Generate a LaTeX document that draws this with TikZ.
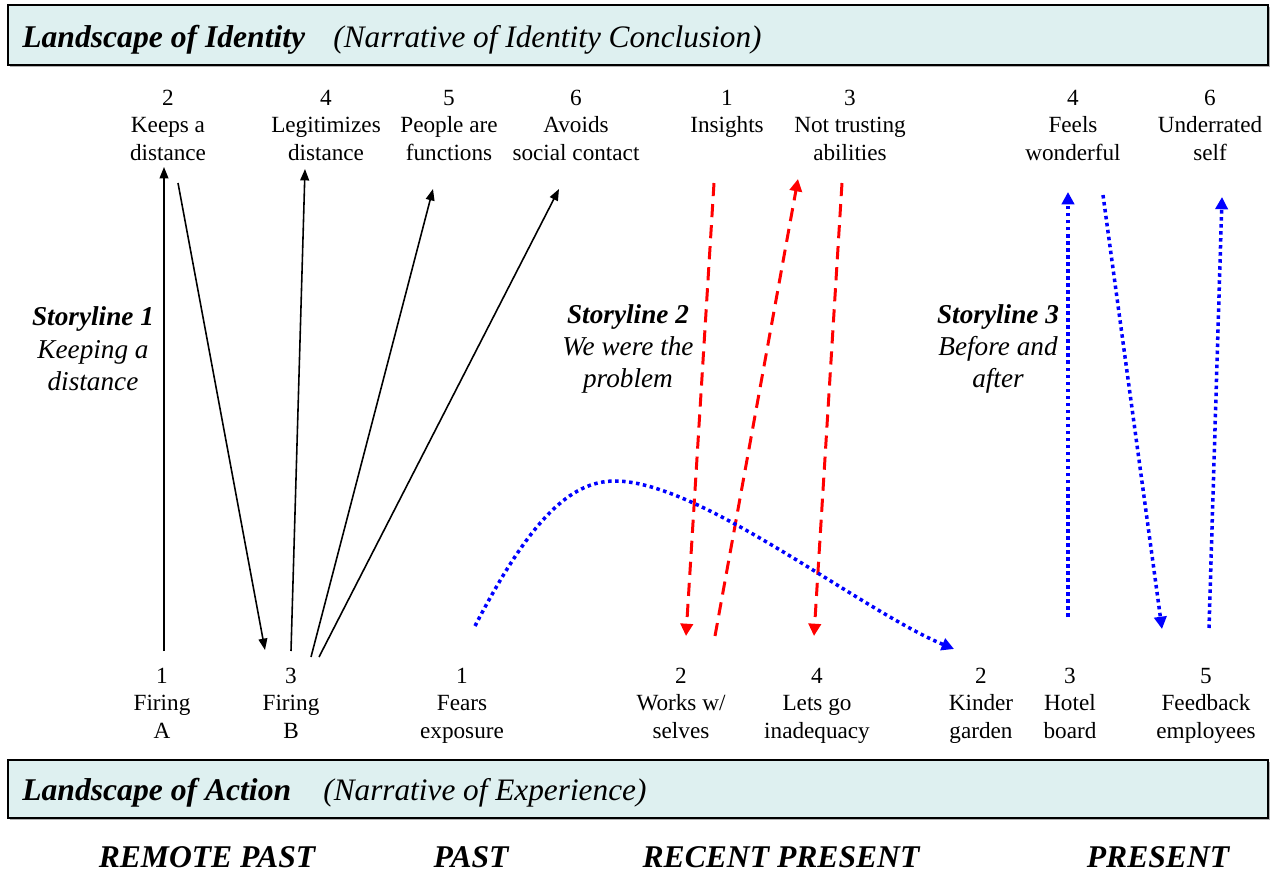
\documentclass[tikz,border=0pt]{standalone}
\usepackage{fontspec}
\setmainfont{Liberation Serif}
\usetikzlibrary{arrows.meta}
\definecolor{boxfill}{RGB}{222,240,240}
\newcommand{\ls}{\strut}
\tikzset{
  lbl/.style={font=\fontsize{13.2}{15.6}\selectfont, align=center, inner sep=0pt, anchor=north},
  story/.style={font=\fontsize{15.5}{18.4}\selectfont\itshape, align=center, inner sep=0pt},
  hdr/.style={font=\fontsize{17.8}{21}\selectfont\itshape, inner sep=0pt},
  era/.style={font=\fontsize{18}{21}\selectfont\bfseries\itshape, inner sep=0pt, anchor=base},
  blackarr/.style={black, line width=0.9pt, -{Triangle[length=6.5pt,width=5pt]}},
  redarr/.style={red, line width=1.7pt, dash pattern=on 7.5pt off 4.5pt, -{Triangle[length=7pt,width=7pt]}},
  bluearr/.style={blue, line width=2pt, dash pattern=on 2pt off 2pt, -{Triangle[length=7pt,width=7pt]}},
  panel/.style={draw=black, line width=0.8pt, fill=boxfill}
}
\begin{document}
\begin{tikzpicture}[x=0.02cm,y=-0.02cm]
\useasboundingbox (0,0) rectangle (1275,872);
% header panels
\fill[gray!60] (10,7) rectangle (1270,67);
\draw[panel] (8,5) rectangle (1268,65);
\fill[gray!60] (10,762) rectangle (1270,820);
\draw[panel] (8,760) rectangle (1268,818);
\node[hdr, anchor=base west] (lid) at (22,48) {\bfseries\fontsize{18}{21}\selectfont Landscape of Identity};
\node[hdr, anchor=base west] (nid) at (333,48) {(Narrative of Identity Conclusion)};
\node[hdr, anchor=base west] (lac) at (22,800) {\bfseries\fontsize{18}{21}\selectfont Landscape of Action};
\node[hdr, anchor=base west] (nex) at (323,800) {(Narrative of Experience)};
% era labels
\node[era] (e1) at (207,867) {REMOTE PAST};
\node[era] (e2) at (471,867) {PAST};
\node[era] (e3) at (781,867) {RECENT PRESENT};
\node[era] (e4) at (1158,867) {PRESENT};
% top labels
\node[lbl] (t1) at (168,86) {\ls2\\\ls Keeps a\\\ls distance};
\node[lbl] (t2) at (326,86) {\ls4\\\ls Legitimizes\\\ls distance};
\node[lbl] (t3) at (449,86) {\ls5\\\ls People are\\\ls functions};
\node[lbl] (t4) at (576,86) {\ls6\\\ls Avoids\\\ls social contact};
\node[lbl] (t5) at (727,86) {\ls1\\\ls Insights};
\node[lbl] (t6) at (850,86) {\ls3\\\ls Not trusting\\\ls abilities};
\node[lbl] (t7) at (1073,86) {\ls4\\\ls Feels\\\ls wonderful};
\node[lbl] (t8) at (1210,86) {\ls6\\\ls Underrated\\\ls self};
% bottom labels
\node[lbl] (b1) at (162,664) {\ls1\\\ls Firing\\\ls A};
\node[lbl] (b2) at (291,664) {\ls3\\\ls Firing\\\ls B};
\node[lbl] (b3) at (462,664) {\ls1\\\ls Fears\\\ls exposure};
\node[lbl] (b4) at (681,664) {\ls2\\\ls Works w/\\\ls selves};
\node[lbl] (b5) at (817,664) {\ls4\\\ls Lets go\\\ls inadequacy};
\node[lbl] (b6) at (981,664) {\ls2\\\ls Kinder\\\ls garden};
\node[lbl] (b7) at (1070,664) {\ls3\\\ls Hotel\\\ls board};
\node[lbl] (b8) at (1206,664) {\ls5\\\ls Feedback\\\ls employees};
% storylines
\node[story] (s1) at (93,349) {\bfseries Storyline 1\\Keeping a\\distance};
\node[story] (s2) at (628,349) {\bfseries Storyline 2\\We were the\\problem};
\node[story] (s3) at (998,349) {\bfseries Storyline 3\\Before and\\after};
% arrow end points
\coordinate (a1s) at (164,651); \coordinate (a1e) at (164,167);
\coordinate (a2s) at (178,183); \coordinate (a2e) at (265,650);
\coordinate (a3s) at (291,651); \coordinate (a3e) at (305,169);
\coordinate (a4s) at (311,657); \coordinate (a4e) at (433,189);
\coordinate (a5s) at (319,657); \coordinate (a5e) at (559,189);
\coordinate (r1s) at (714,183); \coordinate (r1e) at (686,636);
\coordinate (r2s) at (715,636); \coordinate (r2e) at (798,179);
\coordinate (r3s) at (842,183); \coordinate (r3e) at (814,636);
\coordinate (c1s) at (475,626); \coordinate (c1m) at (615,481); \coordinate (c1e) at (954,649);
\coordinate (u1s) at (1068,617); \coordinate (u1e) at (1068,192);
\coordinate (u2s) at (1103,195); \coordinate (u2e) at (1162,629);
\coordinate (u3s) at (1209,628); \coordinate (u3e) at (1222,197);
% storyline 1
\draw[blackarr] (a1s) -- (a1e);
\draw[blackarr] (a2s) -- (a2e);
\draw[blackarr] (a3s) -- (a3e);
\draw[blackarr] (a4s) -- (a4e);
\draw[blackarr] (a5s) -- (a5e);
% storyline 2
\draw[redarr] (r1s) -- (r1e);
\draw[redarr] (r2s) -- (r2e);
\draw[redarr] (r3s) -- (r3e);
\draw[bluearr] (c1s) .. controls (530,520) and (570,481) .. (c1m) .. controls (700,481) and (860,610) .. (c1e);
% storyline 3
\draw[bluearr] (u1s) -- (u1e);
\draw[bluearr] (u2s) -- (u2e);
\draw[bluearr] (u3s) -- (u3e);
\end{tikzpicture}
\end{document}
